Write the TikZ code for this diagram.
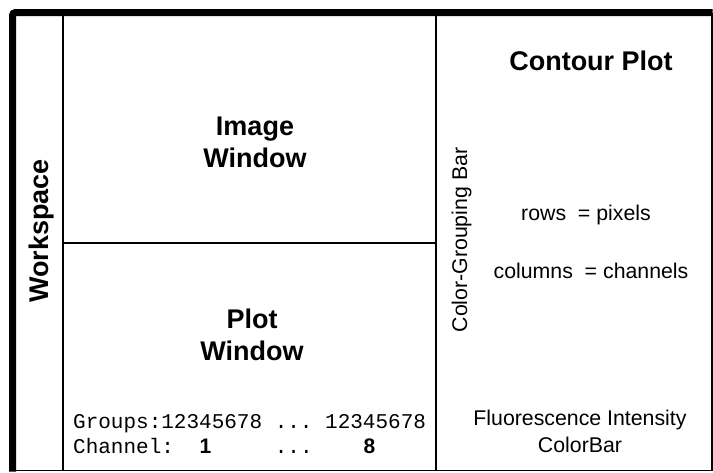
\documentclass[tikz,border=0pt]{standalone}
\usepackage{fontspec}
\setmainfont{Liberation Sans}
\setmonofont{Liberation Mono}
\newcommand{\bdigit}[1]{\makebox[0.6em]{\rmfamily\bfseries #1}}
\begin{document}
\begin{tikzpicture}[x=1pt, y=-1pt,
                    every node/.style={inner sep=0pt, anchor=base},
                    title/.style={font=\fontsize{27}{32}\selectfont\bfseries, align=center},
                    plain/.style={font=\fontsize{21.3}{27}\selectfont, align=center},
                    code/.style={font=\fontsize{21}{25}\selectfont\ttfamily, anchor=base west},
                    divider/.style={line width=1.8pt}]
    \useasboundingbox (0,0) rectangle (713,472);
    % frame
    \draw[line width=1.5pt] (12.5,470.5) -- (712,470.5) -- (712,12.5);
    \draw[line width=7pt, rounded corners=3pt] (12.5,471.5) -- (12.5,12.5) -- (712.7,12.5);
    % panels
    \draw[divider] (63,12.5) -- (63,470.5);
    \draw[divider] (436,12.5) -- (436,470.5);
    \draw[divider] (63,243.3) -- (436,243.3);
    % texts (base of a two-line node is its last line)
    \node[title, rotate=90] (ws) at (48,231) {Workspace};
    \node[title] (img) at (255,167) {Image\\Window};
    \node[title] (plt) at (252,360) {Plot\\Window};
    \node[code] (grp) at (73,428) {Groups:12345678 ... 12345678};
    \node[code] (chn) at (73,453) {Channel:~~\bdigit{1}~~~~~...~~~~\bdigit{8}};
    \node[title] (ctr) at (591,70) {Contour Plot};
    \node[plain, rotate=90] (cgb) at (467,240) {Color-Grouping Bar};
    \node[plain] (rws) at (586,220) {rows \ = pixels};
    \node[plain] (cls) at (591,278) {columns \ = channels};
    \node[plain] (fic) at (580,452) {Fluorescence Intensity\\ColorBar};
\end{tikzpicture}
\end{document}
